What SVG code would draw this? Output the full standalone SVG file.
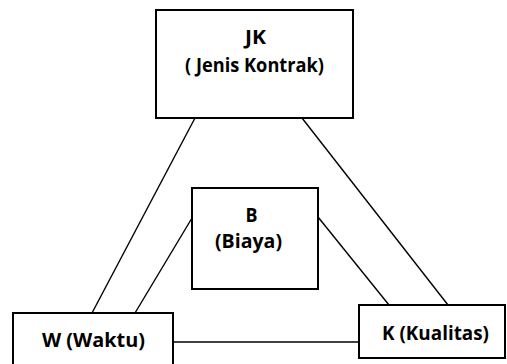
<svg xmlns="http://www.w3.org/2000/svg" width="507" height="364" viewBox="0 0 507 364">
<style>
.box{fill:#fff;stroke:#000;stroke-width:2}
.ln{stroke:#000;stroke-width:1.4;fill:none}
text{font-family:"Open Sans","Liberation Sans",sans-serif;font-weight:bold;font-size:19.5px;fill:#000}
</style>
<rect width="507" height="364" fill="#fff"/>
<g id="connectors">
<line class="ln" x1="195" y1="118" x2="92" y2="313"/>
<line class="ln" x1="302" y1="118" x2="448" y2="305"/>
<line class="ln" x1="192" y1="218" x2="135" y2="313"/>
<line class="ln" x1="318" y1="217" x2="389" y2="305"/>
<line class="ln" x1="173" y1="342" x2="359" y2="342"/>
</g>
<g id="node-jk">
<rect class="box" x="156" y="10" width="197" height="108"/>
<text x="245" y="44" textLength="21" lengthAdjust="spacingAndGlyphs">JK</text>
<text x="185" y="72" textLength="139" lengthAdjust="spacingAndGlyphs">( Jenis Kontrak)</text>
</g>
<g id="node-b">
<rect class="box" x="192" y="188" width="126" height="101"/>
<text x="245.5" y="222" textLength="12" lengthAdjust="spacingAndGlyphs">B</text>
<text x="215" y="248" textLength="67" lengthAdjust="spacingAndGlyphs">(Biaya)</text>
</g>
<g id="node-w">
<rect class="box" x="13" y="313" width="160" height="56"/>
<text x="42" y="347" textLength="103" lengthAdjust="spacingAndGlyphs">W (Waktu)</text>
</g>
<g id="node-k">
<rect class="box" x="359" y="305" width="146" height="53"/>
<text x="382" y="340" textLength="107" lengthAdjust="spacingAndGlyphs">K (Kualitas)</text>
</g>
</svg>
